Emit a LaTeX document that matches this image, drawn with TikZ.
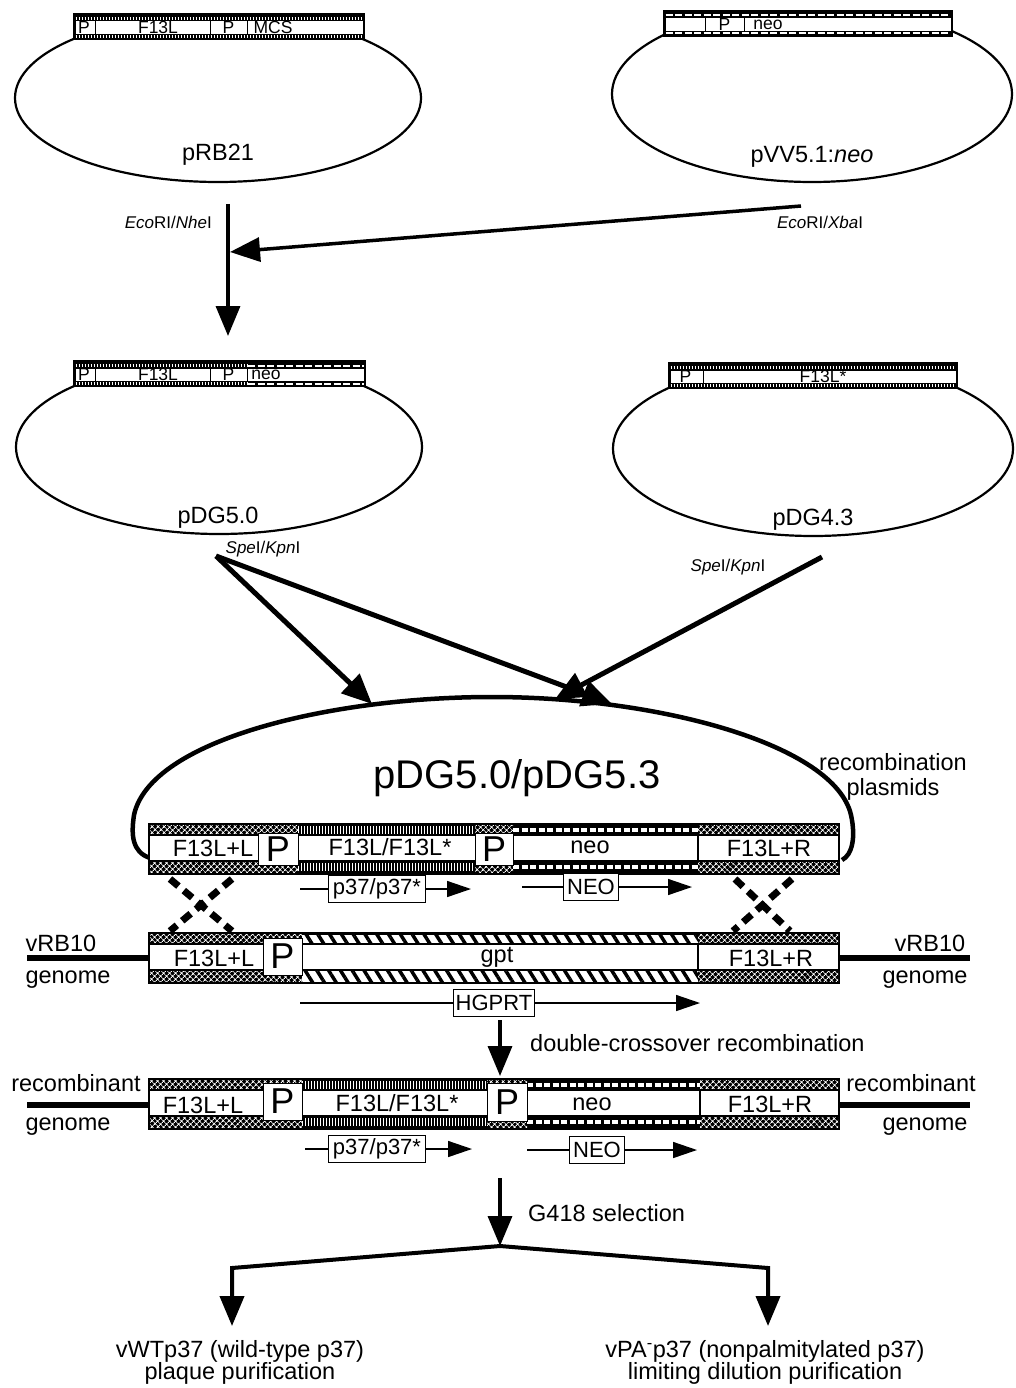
\documentclass[tikz,border=0pt]{standalone}
\usepackage{fontspec}
\setmainfont{Liberation Sans}
\usetikzlibrary{arrows.meta, positioning, shapes.geometric, patterns.meta}

% bar pieces (coordinates in pixels of the figure)
\newcommand\smallbar[3]{%
  \fill (#1,#3) rectangle (#2,#3+27);
  \fill[white] (#1+2.5,#3+8.5) rectangle (#2-2.5,#3+21);}
\newcommand\bigbar[1]{%
  \fill (148,#1) rectangle (840,#1+52);
  \fill[white] (150,#1+12.5) rectangle (838,#1+37);}
\newcommand\band[5]{\path[#1] (#2,#4) rectangle (#3,#5);}
\newcommand\bigband[4]{%
  \band{#1}{#2}{#3}{#4+2.5}{#4+10.5}
  \band{#1}{#2}{#3}{#4+39}{#4+49.5}}
% dashed stripes: big bar / small bar
\newcommand\stripes[4]{%
  \draw[#1] (#2,#4+6.5) -- (#3,#4+6.5);
  \draw[#1] (#2,#4+44.2) -- (#3,#4+44.2);}
\newcommand\sstripes[4]{%
  \draw[#1] (#2,#4+5.5) -- (#3,#4+5.5);
  \draw[#1] (#2,#4+23.5) -- (#3,#4+23.5);}

\tikzset{
  bigtick/.style={white, line width=8pt, dash pattern=on 1.4pt off 1.6pt},
  bigdash/.style={white, line width=4pt, dash pattern=on 6pt off 2.5pt},
  smalltick/.style={white, line width=2.5pt, dash pattern=on 1.5pt off 1.5pt},
  smalldash/.style={white, line width=2pt, dash pattern=on 7pt off 2.5pt},
  hatchband/.style={fill=black, postaction={pattern={Hatch[angle=45,distance=4pt,line width=1pt]}, pattern color=white}},
  diagband/.style={fill=white, postaction={pattern={Lines[angle=-58,distance=10pt,line width=3.5pt]}}},
}

\begin{document}
\begin{tikzpicture}[x=1pt, y=-1pt,
  txt/.style={font=\fontsize{23.5}{22}\selectfont, inner sep=0pt, align=center},
  small/.style={font=\fontsize{17.5}{18}\selectfont, inner sep=0pt},
  enz/.style={font=\fontsize{17}{19}\selectfont, inner sep=0pt},
  plasmid/.style={ellipse, draw, line width=2.2pt, inner sep=0pt},
  pbox/.style={draw, line width=1pt, fill=white, minimum width=40pt, minimum height=32pt, inner sep=0pt, font=\fontsize{36}{36}\selectfont},
  genebox/.style={draw, line width=1pt, fill=white, inner xsep=4pt, inner ysep=0pt, minimum height=27pt, font=\fontsize{22}{22}\selectfont},
  genearrow/.style={line width=1.5pt, -{Triangle[length=24pt,width=16pt]}},
  bigarrow/.style={line width=3.5pt, -{Triangle[length=30pt,width=24pt]}},
  fatarrow/.style={line width=5pt, -{Triangle[length=30pt,width=26pt]}},
  xover/.style={line width=7pt, dash pattern=on 11pt off 7pt},
  genome/.style={line width=6pt},
]
\useasboundingbox (0,0) rectangle (1016,1388);

% parent plasmids
\begin{scope}
  \clip (0,14) rectangle (1016,300);
  \node[plasmid, minimum width=406pt, minimum height=168pt] (pRB21) at (218,98) {};
  \node[plasmid, minimum width=400pt, minimum height=176pt] (pVV) at (812,94) {};
\end{scope}
\begin{scope}
  \clip (0,363) rectangle (1016,600);
  \node[plasmid, minimum width=406pt, minimum height=174pt] (pDG50) at (219,447) {};
  \node[plasmid, minimum width=400pt, minimum height=175pt] (pDG43) at (813,448.5) {};
\end{scope}

\smallbar{73}{365}{13}
\sstripes{smalltick}{75.5}{362.5}{13}
\foreach \x in {95,210,247} \draw[line width=1pt] (\x,21.5) -- (\x,34);
\node[small] (rbP1) at (84,27.7) {P};
\node[small] (rbF) at (158,27.7) {F13L};
\node[small] (rbP2) at (228.5,27.7) {P};
\node[small] (rbM) at (273,27.7) {MCS};

\smallbar{663}{953}{10}
\sstripes{smalldash}{665.5}{950.5}{10}
\foreach \x in {705,744} \draw[line width=1pt] (\x,18.5) -- (\x,31);
\node[small] (vvP) at (724.5,24.7) {P};
\node[small] (vvN) at (768,24.7) {neo};

\smallbar{73}{366}{360}
\sstripes{smalltick}{75.5}{247}{360}
\sstripes{smalldash}{248}{363.5}{360}
\foreach \x in {95,210,247} \draw[line width=1pt] (\x,368.5) -- (\x,381);
\node[small] (d5P1) at (84,374.7) {P};
\node[small] (d5F) at (158,374.7) {F13L};
\node[small] (d5P2) at (228.5,374.7) {P};
\node[small] (d5N) at (266,374.7) {neo};

\smallbar{668}{958}{362}
\sstripes{smalltick}{670.5}{955.5}{362}
\draw[line width=1pt] (703,370.5) -- (703,383);
\node[small] (d4P) at (685.5,376.7) {P};
\node[small] (d4F) at (823,376.7) {F13L*};

\node[txt] (lRB) at (218,155) {pRB21};
\node[txt] (lVV) at (812,157) {pVV5.1:\textit{neo}};
\node[txt] (lD5) at (218,518) {pDG5.0};
\node[txt] (lD4) at (813,520) {pDG4.3};

% first cloning step
\coordinate (cutA) at (228,204);
\coordinate (tipA) at (228,336);
\coordinate (cutB) at (801,206);
\coordinate (join) at (230,252);
\draw[bigarrow] (cutA) -- (tipA);
\draw[bigarrow] (cutB) -- (join);
\node[enz, anchor=east] (nhe) at (212,222) {\textit{Eco}RI/\textit{Nhe}I};
\node[enz] (xba) at (820,222) {\textit{Eco}RI/\textit{Xba}I};

% second cloning step
\coordinate (cutC) at (216,556);
\coordinate (cutD) at (822,557);
\coordinate (tipC) at (372,704);
\coordinate (tipD) at (612,704);
\coordinate (tipE) at (555,699);
\draw[fatarrow] (cutC) -- (tipC);
\draw[fatarrow] (cutC) -- (tipD);
\draw[fatarrow] (cutD) -- (tipE);
\node[enz] (spe1) at (263,549) {\textit{Spe}I/\textit{Kpn}I};
\node[enz] (spe2) at (728,567) {\textit{Spe}I/\textit{Kpn}I};

% recombination plasmid
\draw[line width=4.5pt] (150,858) .. controls (132,852) and (131,835) .. (134,815)
  .. controls (150,740) and (330,697) .. (492,697)
  .. controls (660,697) and (835,745) .. (851,815)
  .. controls (856,838) and (852,855) .. (842,860);
\node[font=\fontsize{40}{40}\selectfont, inner sep=0pt] (recname) at (517,778) {pDG5.0/pDG5.3};
\node[txt, font=\fontsize{23.5}{25}\selectfont] (reclbl) at (893,777) {recombination\\plasmids};

\bigbar{823}
\bigband{hatchband}{150}{298}{823}
\stripes{bigtick}{298}{475}{823}
\bigband{hatchband}{475}{513}{823}
\stripes{bigdash}{513}{698}{823}
\bigband{hatchband}{698}{838}{823}
\draw[line width=1.5pt] (698,835) -- (698,860);
\node[pbox] (aP1) at (278,849) {P};
\node[pbox, minimum width=38pt] (aP2) at (494,849) {P};
\node[txt] (aL) at (213,848) {F13L+L};
\node[txt] (aF) at (390,847) {F13L/F13L*};
\node[txt] (aN) at (590,847) {neo};
\node[txt] (aR) at (769,848) {F13L+R};

\coordinate (p37aS) at (300,889);
\coordinate (p37aE) at (471,889);
\node[genebox] (p37a) at (377,889) {p37/p37*};
\draw[line width=1.5pt] (p37aS) -- (p37a);
\draw[genearrow] (p37a) -- (p37aE);
\coordinate (neoaS) at (522,887);
\coordinate (neoaE) at (692,887);
\node[genebox] (neoa) at (591,887) {NEO};
\draw[line width=1.5pt] (neoaS) -- (neoa);
\draw[genearrow] (neoa) -- (neoaE);

% crossovers
\coordinate (xa1) at (170,879); \coordinate (xa2) at (232,931);
\coordinate (xa3) at (232,879); \coordinate (xa4) at (170,931);
\coordinate (xb1) at (735,879); \coordinate (xb2) at (790,931);
\coordinate (xb3) at (792,879); \coordinate (xb4) at (733,931);
\draw[xover] (xa1) -- (xa2);
\draw[xover] (xa3) -- (xa4);
\draw[xover] (xb1) -- (xb2);
\draw[xover] (xb3) -- (xb4);

% vRB10 genome
\bigbar{932}
\bigband{hatchband}{150}{302}{932}
\bigband{diagband}{302}{698}{932}
\bigband{hatchband}{698}{838}{932}
\draw[line width=1.5pt] (698,944) -- (698,969);
\node[pbox, minimum width=39pt, minimum height=37pt] (bP) at (282.5,956.5) {P};
\node[txt] (bL) at (214,958) {F13L+L};
\node[txt] (bG) at (497,957) {gpt};
\node[txt] (bR) at (771,958) {F13L+R};
\coordinate (vLa) at (27,958); \coordinate (vLb) at (148,958);
\coordinate (vRa) at (840,958); \coordinate (vRb) at (970,958);
\draw[genome] (vLa) -- (vLb);
\draw[genome] (vRa) -- (vRb);
\node[txt] (vl1) at (61,943) {vRB10};
\node[txt] (vl2) at (68,980) {genome};
\node[txt] (vr1) at (930,943) {vRB10};
\node[txt] (vr2) at (925,980) {genome};

\coordinate (hgS) at (300,1003);
\coordinate (hgE) at (700,1003);
\node[genebox, inner xsep=2pt] (hg) at (494,1003) {HGPRT};
\draw[line width=1.5pt] (hgS) -- (hg);
\draw[genearrow] (hg) -- (hgE);

% recombination step
\coordinate (dcS) at (500,1020);
\coordinate (dcE) at (500,1076);
\draw[bigarrow] (dcS) -- (dcE);
\node[txt, anchor=west] (dcl) at (530,1043) {double-crossover recombination};

% recombinant genome
\bigbar{1078}
\bigband{hatchband}{150}{302}{1078}
\stripes{bigtick}{302}{487}{1078}
\bigband{hatchband}{487}{527}{1078}
\stripes{bigdash}{527}{700}{1078}
\bigband{hatchband}{700}{838}{1078}
\draw[line width=1.5pt] (700,1090) -- (700,1115);
\node[pbox, minimum width=39pt, minimum height=37pt] (cP1) at (282.5,1101.5) {P};
\node[pbox, minimum height=38pt] (cP2) at (507,1102.5) {P};
\node[txt] (cL) at (203,1105) {F13L+L};
\node[txt] (cF) at (397,1103) {F13L/F13L*};
\node[txt] (cN) at (592,1104) {neo};
\node[txt] (cR) at (770,1104) {F13L+R};
\coordinate (rLa) at (27,1105); \coordinate (rLb) at (148,1105);
\coordinate (rRa) at (840,1105); \coordinate (rRb) at (970,1105);
\draw[genome] (rLa) -- (rLb);
\draw[genome] (rRa) -- (rRb);
\node[txt] (rl1) at (76,1083) {recombinant};
\node[txt] (rl2) at (68,1127) {genome};
\node[txt] (rr1) at (911,1083) {recombinant};
\node[txt] (rr2) at (925,1127) {genome};

\coordinate (p37cS) at (305,1149);
\coordinate (p37cE) at (472,1149);
\node[genebox] (p37c) at (377,1149) {p37/p37*};
\draw[line width=1.5pt] (p37cS) -- (p37c);
\draw[genearrow] (p37c) -- (p37cE);
\coordinate (neocS) at (527,1150);
\coordinate (neocE) at (697,1150);
\node[genebox] (neoc) at (597,1150) {NEO};
\draw[line width=1.5pt] (neocS) -- (neoc);
\draw[genearrow] (neoc) -- (neocE);

% selection and purification
\coordinate (gS) at (500,1178);
\coordinate (split) at (500,1246);
\draw[bigarrow] (gS) -- (split);
\node[txt, anchor=west] (gl) at (528,1213) {G418 selection};
\coordinate (brL) at (232,1268); \coordinate (tipL) at (232,1326);
\coordinate (brR) at (768,1268); \coordinate (tipR) at (768,1326);
\draw[line width=4pt, -{Triangle[length=30pt,width=24pt]}] (split) -- (brL) -- (tipL);
\draw[line width=4pt, -{Triangle[length=30pt,width=24pt]}] (split) -- (brR) -- (tipR);
\node[txt] (wt) at (240,1362) {vWTp37 (wild-type p37)\\plaque purification};
\node[txt] (pa) at (765,1362) {vPA\textsuperscript{-}p37 (nonpalmitylated p37)\\limiting dilution purification};
\end{tikzpicture}
\end{document}
